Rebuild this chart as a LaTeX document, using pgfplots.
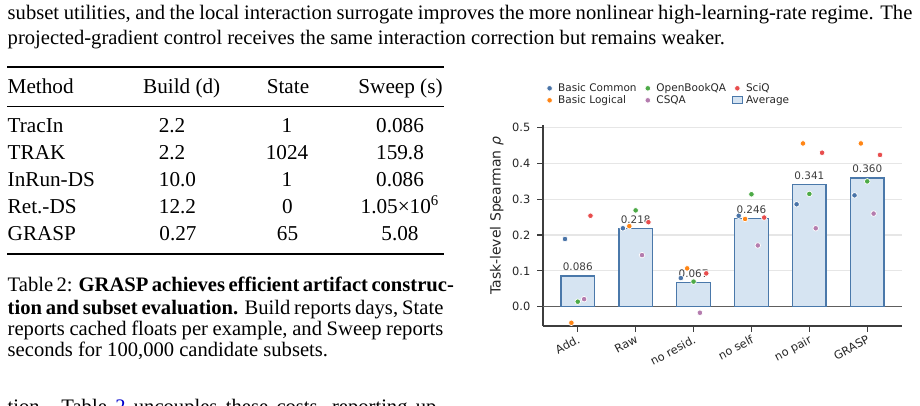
\documentclass[border=0pt]{standalone}
\usepackage{fontspec}
\setmainfont{Liberation Serif}
\newfontfamily\dejavu{DejaVu Sans}
\usepackage{pgfplots}
\pgfplotsset{compat=1.18}
\definecolor{cblue}{HTML}{4A74A8}
\definecolor{corange}{HTML}{FF8515}
\definecolor{cgreen}{HTML}{4DAA47}
\definecolor{cred}{HTML}{E84D4D}
\definecolor{cpink}{HTML}{B47CAE}
\definecolor{spine}{HTML}{3D3D3D}
\definecolor{gridc}{HTML}{E6E6E6}
\definecolor{zeroc}{HTML}{5E5E5E}
\definecolor{labelc}{HTML}{262626}
\definecolor{barfill}{HTML}{D6E4F2}
\definecolor{baredge}{HTML}{4A78AA}
\definecolor{linkblue}{rgb}{0,0,0.8}
\newcommand\bodyfont{\fontsize{10.3}{12}\selectfont}
\newcommand\tabfont{\fontsize{10.6}{12}\selectfont}
\newcommand\chartfont{\dejavu\fontsize{5.7}{6.8}\selectfont}
\begin{document}
\begin{tikzpicture}
\path[use as bounding box] (0,0) rectangle (460pt,-203pt);
\begin{scope}[x=0.5pt,y=-0.5pt]
% body text
\node[anchor=base west,inner sep=0pt,font=\bodyfont] at (7.3,20) {\makebox[452.3pt][s]{subset utilities, and the local interaction surrogate improves the more nonlinear high-learning-rate regime. The}};
\node[anchor=base west,inner sep=0pt,font=\bodyfont] at (7.3,45) {projected-gradient control receives the same interaction correction but remains weaker.};
% table
\draw[line width=1pt] (7.3,67.3) -- (443.5,67.3);
\draw[line width=0.6pt] (7.3,106.7) -- (443.5,106.7);
\draw[line width=1pt] (7.3,253.5) -- (443.5,253.5);
\begin{scope}[every node/.style={inner sep=0pt,font=\tabfont}]
\node[anchor=base west] at (7.3,94) {Method};
\node[anchor=base] at (181.7,94) {Build (d)};
\node[anchor=base] at (288,94) {State};
\node[anchor=base] at (400.5,94) {Sweep (s)};
\node[anchor=base west] at (7.3,132.7) {TracIn};
\node[anchor=base] at (172,132.7) {2.2};
\node[anchor=base] at (287,132.7) {1};
\node[anchor=base] at (400,132.7) {0.086};
\node[anchor=base west] at (7.3,159.7) {TRAK};
\node[anchor=base] at (172,159.7) {2.2};
\node[anchor=base] at (287,159.7) {1024};
\node[anchor=base] at (400,159.7) {159.8};
\node[anchor=base west] at (7.3,186.7) {InRun-DS};
\node[anchor=base] at (177.5,186.7) {10.0};
\node[anchor=base] at (287,186.7) {1};
\node[anchor=base] at (400,186.7) {0.086};
\node[anchor=base west] at (7.3,213.7) {Ret.-DS};
\node[anchor=base] at (177.5,213.7) {12.2};
\node[anchor=base] at (287.5,213.7) {0};
\node[anchor=base] at (400,213.7) {1.05\texttimes10\textsuperscript{6}};
\node[anchor=base west] at (7.3,240.7) {GRASP};
\node[anchor=base] at (178,240.7) {0.27};
\node[anchor=base] at (287.5,240.7) {65};
\node[anchor=base] at (400,240.7) {5.08};
\end{scope}
% caption
\node[anchor=base west,inner sep=0pt,font=\bodyfont] at (7.3,291.7) {\makebox[217.85pt][s]{Table 2: \textbf{GRASP achieves efficient artifact construc-}}};
\node[anchor=base west,inner sep=0pt,font=\bodyfont] at (7.3,314.3) {\makebox[217.85pt][s]{\textbf{tion and subset evaluation.} Build reports days, State}};
\node[anchor=base west,inner sep=0pt,font=\bodyfont] at (7.3,335.3) {\makebox[217.85pt][s]{reports cached floats per example, and Sweep reports}};
\node[anchor=base west,inner sep=0pt,font=\bodyfont] at (7.3,356.3) {seconds for 100,000 candidate subsets.};
\node[anchor=base west,inner sep=0pt,font=\bodyfont] at (7.3,413) {\makebox[217.85pt][s]{tion. Table \textcolor{linkblue}{2} uncouples these costs, reporting up-}};
\end{scope}
% chart
\begin{axis}[
  at={(271.5pt,-163pt)}, anchor=south west,
  width=179.5pt, height=100.5pt, scale only axis,
  xmin=-0.6, xmax=5.6, ymin=-0.054, ymax=0.5075,
  axis x line*=bottom, axis y line*=left,
  axis line style={-, color=spine, line width=0.8pt},
  xtick={0,1,2,3,4,5},
  xticklabels={Add.,Raw,no resid.,no self,no pair,GRASP},
  ytick={0,0.1,0.2,0.3,0.4,0.5},
  /pgf/number format/assume math mode=true,
  yticklabel style={/pgf/number format/.cd, fixed, fixed zerofill, precision=1},
  tick align=outside, major tick length=2.8pt,
  tick style={color=spine, line width=0.6pt},
  ymajorgrids, grid style={color=gridc, line width=0.6pt},
  ticklabel style={font=\chartfont, text=labelc},
  xticklabel style={rotate=28, anchor=north east, inner sep=1pt},
  ylabel={Task-level Spearman {\itshape ρ}},
  ylabel style={font=\dejavu\fontsize{7}{8}\selectfont, text=labelc, at={(axis description cs:-0.129,0.548)}, anchor=center},
  legend image code/.code={\path (0pt,-1.75pt) (5pt,1.75pt); \draw[#1] plot coordinates {(2.2pt,0pt)};},
  legend style={at={(axis description cs:0.005,1.2124)}, anchor=north west, draw=none, fill=none,
    inner sep=0pt, outer sep=0pt, font=\dejavu\fontsize{5.25}{6.3}\selectfont, text=labelc,
    /tikz/every odd column/.append style={column sep=0.9pt},
    /tikz/every even column/.append style={column sep=2.8pt},
    nodes={inner sep=0.4pt, text height=4pt, text depth=1.2pt}},
  legend columns=3, legend cell align=left,
]
\addplot[forget plot, color=zeroc, line width=0.7pt] coordinates {(-0.6,0) (5.6,0)};
\addplot[forget plot, ybar, bar width=0.58, fill=barfill, draw=baredge, line width=0.7pt,
  point meta=y, nodes near coords={\pgfmathprintnumber[fixed,fixed zerofill,precision=3]{\pgfplotspointmeta}},
  nodes near coords style={font=\dejavu\fontsize{5.2}{6}\selectfont, text=spine, anchor=south, inner sep=0pt, yshift=2.3pt}]
  coordinates {(0,0.086) (1,0.218) (2,0.067) (3,0.246) (4,0.341) (5,0.360)};
\addplot[only marks, mark=*, mark size=1.4pt, mark options={fill=cblue, draw=white, line width=0.35pt}]
  coordinates {(-0.22,0.189) (0.78,0.219) (1.78,0.080) (2.78,0.254) (3.78,0.286) (4.78,0.311)};
\addlegendentry{Basic Common}
\addplot[only marks, mark=*, mark size=1.4pt, mark options={fill=cgreen, draw=white, line width=0.35pt}]
  coordinates {(0,0.014) (1,0.269) (2,0.070) (3,0.314) (4,0.315) (5,0.350)};
\addlegendentry{OpenBookQA}
\addplot[only marks, mark=*, mark size=1.4pt, mark options={fill=cred, draw=white, line width=0.35pt}]
  coordinates {(0.22,0.254) (1.22,0.236) (2.22,0.093) (3.22,0.249) (4.22,0.430) (5.22,0.424)};
\addlegendentry{SciQ}
\addplot[only marks, mark=*, mark size=1.4pt, mark options={fill=corange, draw=white, line width=0.35pt}]
  coordinates {(-0.11,-0.045) (0.89,0.225) (1.89,0.107) (2.89,0.245) (3.89,0.456) (4.89,0.456)};
\addlegendentry{Basic Logical}
\addplot[only marks, mark=*, mark size=1.4pt, mark options={fill=cpink, draw=white, line width=0.35pt}]
  coordinates {(0.11,0.021) (1.11,0.144) (2.11,-0.017) (3.11,0.171) (4.11,0.219) (5.11,0.260)};
\addlegendentry{CSQA}
\addlegendimage{legend image code/.code={\draw[fill=barfill, draw=baredge, line width=0.5pt] (0pt,-1.75pt) rectangle (5pt,1.75pt);}}
\addlegendentry{Average}
\end{axis}
\end{tikzpicture}
\end{document}
